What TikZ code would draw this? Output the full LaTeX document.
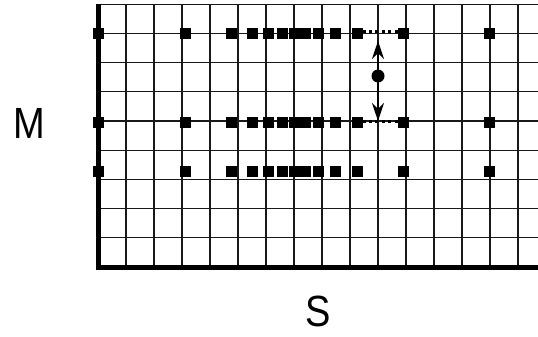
\documentclass[tikz,border=0pt]{standalone}
\usepackage{fontspec}
\setmainfont{Liberation Sans}
\usetikzlibrary{arrows.meta}

\begin{document}
\begin{tikzpicture}[
    x=1pt, y=-1pt,
    >={Stealth[length=18pt, width=12pt, inset=6pt]},
    gridline/.style={line width=1.3pt, black!90},
    axisline/.style={line width=5pt, black},
    sq/.style={fill=black, minimum size=11pt, inner sep=0pt, outer sep=0pt},
    dot/.style={circle, fill=black, minimum size=13pt, inner sep=0pt},
    gap/.style={line width=3pt, dash pattern=on 3pt off 3.4pt},
    lbl/.style={font=\fontsize{38}{42}\selectfont, yscale=1.15, inner sep=0pt},
]
\useasboundingbox (0,0) rectangle (538,337);

% Grid
\foreach \k in {1,...,15}
    \draw[gridline] ({98+28*\k},4) -- ({98+28*\k},267);
\foreach \j in {1,...,9}
    \draw[gridline] (98,{267-29.2*\j}) -- (538,{267-29.2*\j});

% Axes
\draw[axisline] (98,4) -- (98,267);
\draw[axisline] (95.5,267) -- (538,267);

% Rows of points
\foreach \x [count=\i] in {98,185,231,252,268,282,294,305,318,335,357,403,489} {
    \node[sq] (a\i) at (\x,34) {};
    \node[sq] (b\i) at (\x,122) {};
    \node[sq] (c\i) at (\x,171) {};
}

% Gaps
\draw[gap] ([yshift=2.5pt]a11.east) -- ([yshift=2.5pt]a12.west);
\draw[gap] ([yshift=1pt]b11.east) -- ([yshift=1pt]b12.west);

% Midpoint and arrows
\node[dot] (mid) at (378,76) {};
\coordinate (up) at (378,41);
\coordinate (down) at (378,121);
\draw[->, line width=1.3pt] (mid) -- (up);
\draw[->, line width=1.3pt] (mid) -- (down);

% Labels
\node[lbl] (M) at (29,123) {M};
\node[lbl] (S) at (318,311) {S};

\end{tikzpicture}
\end{document}
